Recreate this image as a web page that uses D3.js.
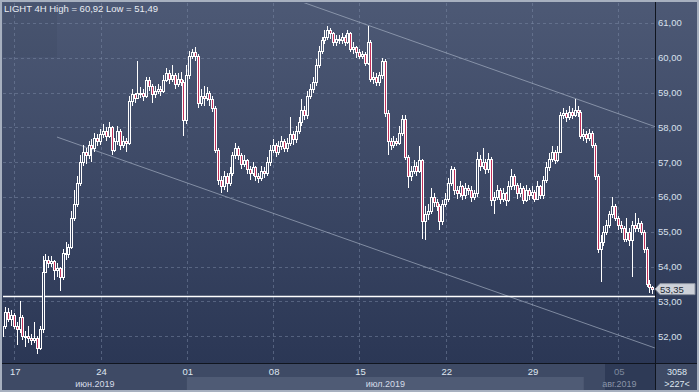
<!DOCTYPE html>
<html>
<head>
<meta charset="utf-8">
<script src="https://cdn.jsdelivr.net/npm/d3@7"></script>
<style>
  body { margin: 0; background: #2c3855; }
  svg { display: block; }
  text { font-family: "Liberation Sans", Arial, sans-serif; }
</style>
</head>
<body>
<svg id="chart" width="699" height="392"></svg>
<script>
// LIGHT 4H bars, 14.06.2019 .. 07.08.2019 (open of each bar = previous close)
const firstOpen = 52.0;
const closes = [
  52.3, 52.7, 52.5, 52.6, 52.3, 52.2, 52.55, 52.0, 52.0, 51.95,
  51.9, 51.95, 51.65, 52.2, 53.85, 54.2, 54.1, 54.15, 53.9, 53.95,
  53.7, 54.4, 54.35, 54.55, 55.4, 55.8, 56.4, 57.0, 57.3, 57.2,
  57.5, 57.4, 57.7, 57.6, 57.8, 57.9, 57.75, 58.0, 57.35, 57.6,
  57.9, 57.5, 57.6, 57.55, 58.75, 58.95, 58.85, 59.0, 59.0, 58.9,
  59.35, 59.2, 58.95, 59.05, 59.1, 59.05, 59.35, 59.55, 59.4, 59.5,
  59.25, 59.4, 59.3, 58.2, 59.5, 60.05, 60.15, 60.05, 58.7, 58.9,
  58.85, 59.0, 58.8, 58.55, 57.35, 56.5, 56.3, 56.6, 56.4, 56.7,
  57.2, 57.4, 57.2, 56.95, 57.05, 56.8, 56.7, 56.85, 56.6, 56.55,
  56.75, 56.7, 57.0, 57.35, 57.5, 57.3, 57.45, 57.6, 57.4, 57.55,
  57.8, 57.65, 57.9, 58.15, 58.5, 58.35, 58.9, 59.1, 59.3, 59.8,
  60.2, 60.5, 60.6, 60.8, 60.7, 60.45, 60.55, 60.5, 60.6, 60.45,
  60.7, 60.25, 60.3, 60.15, 60.05, 60.1, 59.85, 60.45, 59.4, 59.45,
  59.3, 59.5, 59.9, 58.4, 57.6, 57.5, 57.6, 57.55, 57.85, 58.25,
  57.15, 56.6, 56.75, 56.9, 56.75, 57.05, 55.3, 55.5, 55.6, 56.0,
  55.85, 55.75, 55.3, 55.8, 55.95, 56.4, 56.8, 56.2, 56.1, 56.3,
  56.05, 56.25, 56.2, 56.0, 56.1, 57.1, 56.9, 57.0, 56.8, 57.1,
  55.9, 56.0, 56.2, 55.95, 56.1, 55.9, 56.3, 56.6, 56.35, 56.1,
  56.25, 55.9, 56.2, 56.05, 56.15, 55.95, 56.3, 56.05, 56.5, 56.85,
  57.1, 57.3, 57.05, 57.3, 58.35, 58.4, 58.3, 58.45, 58.35, 58.5,
  58.45, 57.75, 57.8, 57.7, 57.85, 57.5, 56.6, 54.5, 54.7, 55.0,
  55.2, 55.5, 55.75, 55.4, 55.2, 55.1, 54.8, 55.0, 54.75, 55.2,
  55.1, 55.25, 55.0, 54.5, 53.5, 53.4, 53.35
];
const highs = [
  52.45, 52.85, 52.8, 52.75, 52.65, 52.4, 53.0, 52.6, 52.15, 52.3,
  52.05, 52.4, 52.0, 52.3, 54.3, 54.35, 54.3, 54.3, 54.2, 54.1,
  54.0, 54.5, 54.7, 54.65, 55.6, 56.2, 56.6, 57.2, 57.5, 57.4,
  57.6, 57.65, 57.85, 57.8, 57.95, 58.1, 58.0, 58.15, 58.05, 57.7,
  58.05, 57.95, 57.75, 57.7, 58.9, 59.1, 59.0, 59.9, 59.15, 59.1,
  59.45, 59.45, 59.25, 59.2, 59.25, 59.2, 59.5, 59.7, 59.65, 59.8,
  59.55, 59.55, 59.6, 59.35, 59.8, 60.2, 60.25, 60.3, 60.1, 59.1,
  59.2, 59.15, 59.05, 58.9, 58.6, 57.4, 56.6, 56.75, 56.7, 56.85,
  57.3, 57.55, 57.45, 57.25, 57.2, 57.1, 56.9, 57.0, 56.9, 56.7,
  56.9, 56.85, 57.15, 57.5, 57.65, 57.55, 57.6, 57.75, 57.65, 57.7,
  58.3, 57.9, 58.05, 58.3, 58.8, 58.6, 59.05, 59.25, 59.45, 59.95,
  60.35, 60.6, 60.8, 60.92, 60.85, 60.75, 60.65, 60.65, 60.7, 60.65,
  60.8, 60.75, 60.45, 60.35, 60.25, 60.2, 60.15, 60.9, 60.5, 59.6,
  59.55, 59.6, 60.0, 59.95, 58.5, 57.7, 57.75, 57.7, 58.05, 58.35,
  58.35, 57.2, 56.9, 57.05, 57.0, 57.45, 57.1, 55.75, 55.8, 56.25,
  56.1, 55.95, 55.8, 55.9, 56.1, 56.55, 56.9, 56.85, 56.3, 56.45,
  56.35, 56.4, 56.35, 56.3, 56.2, 57.3, 57.2, 57.4, 57.1, 57.25,
  57.15, 56.15, 56.35, 56.25, 56.25, 56.15, 56.45, 56.8, 56.65, 56.4,
  56.4, 56.3, 56.35, 56.25, 56.3, 56.2, 56.45, 56.35, 56.6, 57.0,
  57.25, 57.45, 57.35, 57.45, 58.45, 58.55, 58.5, 58.6, 58.55, 58.8,
  58.6, 58.5, 57.95, 57.9, 57.95, 57.9, 57.55, 56.65, 54.9, 55.15,
  55.35, 55.6, 56.0, 55.8, 55.45, 55.3, 55.15, 55.4, 55.1, 55.3,
  55.55, 55.4, 55.3, 55.05, 54.55, 53.6, 53.45
];
const lows = [
  51.9, 52.2, 52.4, 52.3, 52.2, 51.75, 52.1, 51.9, 51.7, 51.8,
  51.75, 51.8, 51.49, 51.6, 52.1, 53.8, 53.95, 54.0, 53.6, 53.7,
  53.3, 53.6, 54.2, 54.25, 54.5, 55.3, 55.7, 56.3, 56.9, 56.95,
  57.1, 57.0, 57.3, 57.45, 57.5, 57.7, 57.6, 57.7, 57.2, 57.3,
  57.5, 57.35, 57.4, 57.3, 57.5, 58.6, 58.7, 58.8, 58.85, 58.75,
  58.85, 59.05, 58.7, 58.85, 58.95, 58.9, 59.0, 59.3, 59.25, 59.3,
  59.1, 59.15, 59.2, 57.75, 58.1, 59.4, 59.95, 59.9, 58.55, 58.6,
  58.6, 58.75, 58.6, 58.45, 57.25, 56.35, 56.1, 56.2, 56.15, 56.3,
  56.6, 57.1, 57.05, 56.8, 56.85, 56.65, 56.5, 56.6, 56.45, 56.4,
  56.45, 56.55, 56.6, 56.9, 57.25, 57.15, 57.2, 57.35, 57.3, 57.3,
  57.45, 57.5, 57.55, 57.8, 58.05, 58.2, 58.25, 58.8, 59.0, 59.2,
  59.7, 60.1, 60.4, 60.5, 60.55, 60.35, 60.35, 60.4, 60.4, 60.35,
  60.4, 60.15, 60.1, 60.0, 59.95, 59.95, 59.75, 59.8, 59.3, 59.25,
  59.2, 59.2, 59.4, 58.3, 57.2, 57.35, 57.4, 57.45, 57.5, 57.75,
  57.05, 56.25, 56.45, 56.65, 56.6, 56.7, 54.8, 54.75, 55.35, 55.5,
  55.7, 55.6, 55.05, 55.2, 55.7, 55.85, 56.3, 56.05, 55.95, 56.0,
  55.9, 55.95, 56.05, 55.85, 55.9, 56.0, 56.75, 56.8, 56.65, 56.7,
  55.75, 55.5, 55.9, 55.8, 55.85, 55.75, 55.85, 56.2, 56.2, 55.95,
  56.0, 55.8, 55.85, 55.9, 55.95, 55.85, 55.9, 55.95, 55.95, 56.4,
  56.75, 57.0, 56.95, 57.0, 57.25, 58.25, 58.15, 58.2, 58.25, 58.3,
  58.3, 57.65, 57.6, 57.55, 57.6, 57.4, 56.5, 54.4, 53.55, 54.6,
  54.9, 55.1, 55.4, 55.3, 55.05, 54.95, 54.7, 54.7, 54.6, 53.7,
  55.0, 55.0, 54.9, 54.4, 53.4, 53.25, 53.2
];

const priceTicks = [52, 53, 54, 55, 56, 57, 58, 59, 60, 61];
const weekLabels = ["17", "24", "01", "08", "15", "22", "29", "05"];
const weekStartBars = [4, 34, 64, 94, 124, 154, 184, 214];
const monthLabels = ["июн.2019", "июл.2019", "авг.2019"];
const monthStartBars = [-1, 64, 202];
const supportLevel = 53.15;
// trend channel: [bar, price] end points
const channelUpper = [[100, 61.72], [227.4, 58.0]];
const channelLower = [[18.85, 57.72], [226.7, 51.66]];
const totalBars = 3058;

const W = 699, H = 392;
const plot = { left: 3, right: 655, top: 3, bottom: 363 };

const svg = d3.select('#chart');
const defs = svg.append('defs');

const grad = defs.append('linearGradient')
    .attr('id', 'bg')
    .attr('gradientUnits', 'userSpaceOnUse')
    .attr('x1', 0).attr('y1', 0).attr('x2', 0).attr('y2', plot.bottom);
grad.append('stop').attr('offset', 0).attr('stop-color', '#4d5975');
grad.append('stop').attr('offset', 1).attr('stop-color', '#2b3755');

defs.append('clipPath').attr('id', 'plotClip')
  .append('rect')
    .attr('x', plot.left).attr('y', plot.top)
    .attr('width', plot.right - plot.left).attr('height', plot.bottom - plot.top);

const x = d3.scaleLinear().domain([0, closes.length - 1]).range([2.8, 652.8]);
const y = d3.scaleLinear().domain([51.227, 61.572]).range([plot.bottom, plot.top]);
const fmt = v => d3.format('.2f')(v).replace('.', ',');

// background
svg.append('rect').attr('width', W).attr('height', H).attr('fill', 'url(#bg)');
svg.append('rect')
    .attr('x', plot.left).attr('y', plot.top).attr('width', 54).attr('height', 54)
    .attr('fill', '#000').attr('opacity', 0.045);

// bottom strip
svg.append('rect')
    .attr('x', 0).attr('y', plot.bottom).attr('width', W).attr('height', H - plot.bottom)
    .attr('fill', '#3e4a65');
svg.append('rect')
    .attr('x', x(monthStartBars[1])).attr('y', 377)
    .attr('width', x(monthStartBars[2]) - x(monthStartBars[1])).attr('height', 13)
    .attr('fill', '#4f5b75');
svg.append('rect')
    .attr('x', 605).attr('y', plot.bottom).attr('width', plot.right - 605).attr('height', H - plot.bottom)
    .attr('fill', '#2a3551').attr('opacity', 0.75);

const g = svg.append('g').attr('clip-path', 'url(#plotClip)');

// grid
g.selectAll('.hgrid').data(priceTicks).join('line')
    .attr('x1', plot.left).attr('x2', plot.right)
    .attr('y1', d => Math.round(y(d)) + 0.5).attr('y2', d => Math.round(y(d)) + 0.5)
    .attr('stroke', '#7b8aa6').attr('stroke-opacity', 0.5)
    .attr('stroke-dasharray', '3,3');
g.selectAll('.vgrid').data(weekStartBars).join('line')
    .attr('x1', d => Math.round(x(d)) + 0.5).attr('x2', d => Math.round(x(d)) + 0.5)
    .attr('y1', plot.top).attr('y2', plot.bottom)
    .attr('stroke', '#7b8aa6').attr('stroke-opacity', 0.5)
    .attr('stroke-dasharray', '3,3');

// channel lines
[channelUpper, channelLower].forEach(line => {
  g.append('line')
      .attr('x1', x(line[0][0])).attr('y1', y(line[0][1]))
      .attr('x2', x(line[1][0])).attr('y2', y(line[1][1]))
      .attr('stroke', '#a9b3c6').attr('stroke-opacity', 0.65).attr('stroke-width', 1);
});

// support line
g.append('line')
    .attr('x1', plot.left).attr('x2', plot.right)
    .attr('y1', Math.round(y(supportLevel)) + 0.5).attr('y2', Math.round(y(supportLevel)) + 0.5)
    .attr('stroke', '#ffffff').attr('stroke-width', 1.4);

// candles
const bars = closes.map((c, i) => ({
  i: i,
  open: i === 0 ? firstOpen : closes[i - 1],
  close: c,
  high: highs[i],
  low: lows[i]
}));

const candle = g.selectAll('.candle').data(bars).join('g');
candle.append('line')
    .attr('x1', d => Math.floor(x(d.i)) + 0.5).attr('x2', d => Math.floor(x(d.i)) + 0.5)
    .attr('y1', d => Math.round(y(d.high))).attr('y2', d => Math.round(y(d.low)))
    .attr('stroke', '#ffffff');
candle.append('rect')
    .attr('x', d => Math.floor(x(d.i)) - 0.5)
    .attr('y', d => Math.round(y(Math.max(d.open, d.close))) + 0.5)
    .attr('width', 2)
    .attr('height', d => Math.max(1, Math.round(y(Math.min(d.open, d.close))) - Math.round(y(Math.max(d.open, d.close)))))
    .attr('fill', d => d.close < d.open ? '#c2305a' : 'url(#bg)')
    .attr('stroke', '#ffffff');

// axis separators
svg.append('line')
    .attr('x1', plot.right + 0.5).attr('x2', plot.right + 0.5).attr('y1', 0).attr('y2', H)
    .attr('stroke', '#10151f');
svg.append('line')
    .attr('x1', 0).attr('x2', W).attr('y1', plot.bottom + 0.5).attr('y2', plot.bottom + 0.5)
    .attr('stroke', '#10151f');

// right axis labels
svg.selectAll('.ylab').data(priceTicks).join('text')
    .attr('x', plot.right + 3).attr('y', d => y(d) + 3.5)
    .attr('font-size', 9.5).attr('fill', '#d8e0ec')
    .text(fmt);

// last price marker
const lastClose = closes[closes.length - 1];
const ly = y(lastClose);
svg.append('path')
    .attr('d', `M${plot.right},${ly} L${plot.right + 5},${ly - 5.5} H${W - 4} V${ly + 5.5} H${plot.right + 5} Z`)
    .attr('fill', '#cdd1d9').attr('stroke', '#8c93a0');
svg.append('text')
    .attr('x', plot.right + 5).attr('y', ly + 3.5)
    .attr('font-size', 9.5).attr('fill', '#222831')
    .text(fmt(lastClose));

// bottom axis labels
svg.selectAll('.xlab').data(weekStartBars).join('text')
    .attr('x', d => x(d) + 1).attr('y', 375)
    .attr('text-anchor', 'middle')
    .attr('font-size', 9.5)
    .attr('fill', (d, i) => x(d) > 605 ? '#7d889c' : '#dfe6f0')
    .text((d, i) => weekLabels[i]);

const monthEnds = monthStartBars.slice(1).map(b => x(b)).concat([plot.right]);
svg.selectAll('.mlab').data(monthLabels).join('text')
    .attr('x', (d, i) => (Math.max(plot.left, x(monthStartBars[i])) + monthEnds[i]) / 2)
    .attr('y', 386.5)
    .attr('text-anchor', 'middle')
    .attr('font-size', 9)
    .attr('fill', (d, i) => i === 2 ? '#8a94a8' : '#d5dce8')
    .text(d => d);

// bar counter box
svg.append('text')
    .attr('x', 677).attr('y', 374.5).attr('text-anchor', 'middle')
    .attr('font-size', 9).attr('fill', '#dfe6f0').text(totalBars);
svg.append('text')
    .attr('x', 677).attr('y', 387).attr('text-anchor', 'middle')
    .attr('font-size', 9).attr('fill', '#dfe6f0').text(`>${closes.length}<`);

// title
svg.append('text')
    .attr('x', 4).attr('y', 12)
    .attr('font-size', 9.5).attr('fill', '#e8ecf3')
    .text(`LIGHT 4H High = ${fmt(d3.max(highs))} Low = ${fmt(d3.min(lows))}`);

// outer frame
svg.append('rect')
    .attr('x', 1).attr('y', 1).attr('width', W - 2).attr('height', H - 2)
    .attr('fill', 'none').attr('stroke', '#a7b0bf').attr('stroke-width', 2);
</script>
</body>
</html>
